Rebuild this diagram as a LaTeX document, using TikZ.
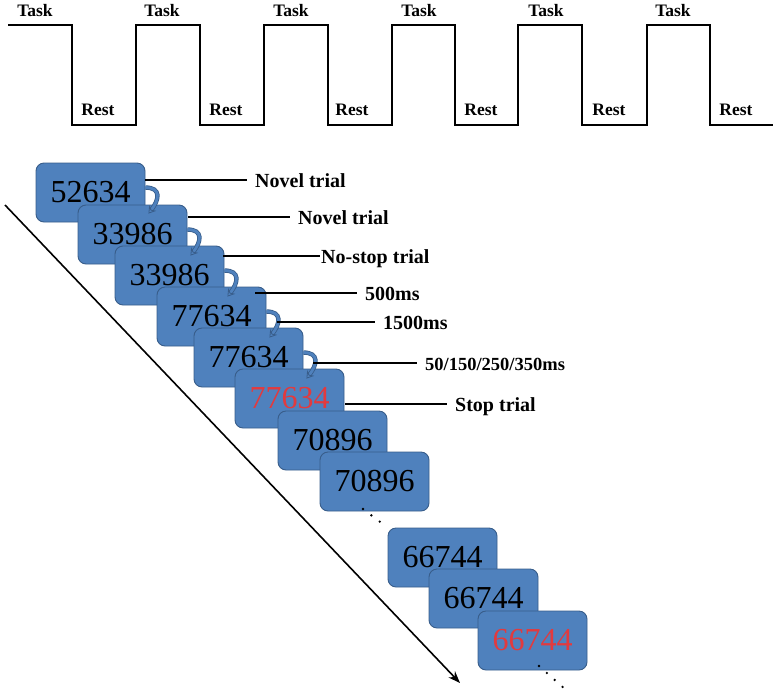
\documentclass[tikz,border=0pt]{standalone}
\usepackage{fontspec}
\setmainfont{Liberation Serif}
\usetikzlibrary{arrows.meta,calc}
\definecolor{boxblue}{RGB}{79,129,189}
\definecolor{boxedge}{RGB}{56,93,138}
\definecolor{numred}{RGB}{226,58,62}
\begin{document}
\begin{tikzpicture}[x=1pt,y=-1pt,
 trialbox/.style={draw=boxedge, fill=boxblue, line width=0.9pt, rounded corners=8pt,
   minimum width=109pt, minimum height=59pt, inner sep=0pt, font=\fontsize{32}{32}\selectfont},
 phase/.style={font=\bfseries\fontsize{17.5}{18}\selectfont, anchor=base, inner sep=0pt},
 lab/.style={font=\bfseries\fontsize{20}{20}\selectfont, anchor=base west, inner sep=0pt},
 leader/.style={line width=1.6pt, shorten >=8pt},
 flow/.style={draw=boxedge, line width=0.8pt, double=boxblue, double distance=2.8pt,
   -{Stealth[length=7pt,width=9pt,open]}},
 wave/.style={line width=2.2pt, line join=miter},
 dots/.style={line width=2.6pt, line cap=round, dash pattern=on 0pt off 10.5pt}
]
\useasboundingbox (0,0) rectangle (776,694);

% block design square wave
\draw[wave] (8,25) -- (72,25) -- (72,125) -- (136,125) -- (136,25) -- (200,25) -- (200,125)
  -- (264,125) -- (264,25) -- (328,25) -- (328,125) -- (392,125) -- (392,25) -- (455,25)
  -- (455,125) -- (518,125) -- (518,25) -- (582,25) -- (582,125) -- (647,125) -- (647,25)
  -- (710,25) -- (710,125) -- (773,125);
\foreach \x [count=\k] in {35,162,291,419,546,673}
  \node[phase] (task\k) at (\x,16) {Task};
\foreach \x [count=\k] in {98,226,352,481,609,736}
  \node[phase] (rest\k) at (\x,115) {Rest};

% time axis
\coordinate (d0) at (5,205);
\coordinate (d1) at (460,683);
\draw[line width=1.6pt, -{Stealth[length=12pt,width=9pt]}] (d0) -- (d1);

% trial boxes
\node[trialbox] (b1) at (90.5,192.5) {52634};
\node[trialbox] (b2) at (132.5,234.5) {33986};
\node[trialbox] (b3) at (169.5,275.5) {33986};
\node[trialbox] (b4) at (211.5,316.5) {77634};
\node[trialbox] (b5) at (248.5,357.5) {77634};
\node[trialbox, text=numred] (b6) at (289.5,398.5) {77634};
\node[trialbox] (b7) at (332.5,440.5) {70896};
\node[trialbox] (b8) at (374.5,481.5) {70896};
\node[trialbox] (b9) at (442.5,557.5) {66744};
\node[trialbox] (b10) at (483.5,598.5) {66744};
\node[trialbox, text=numred] (b11) at (532.5,640.5) {66744};

% curved transition arrows
\foreach \i in {1,...,5}
  \draw[flow] ($(b\i.north east)+(0,25)$) .. controls +(16,0) and +(11,-14) .. ($(b\i.north east)+(3,51)$);

% leader lines and labels
\coordinate (s1) at (145,180);
\coordinate (s2) at (188,217);
\coordinate (s3) at (223,256);
\coordinate (s4) at (255,293);
\coordinate (s5) at (277,322);
\coordinate (s6) at (313,363);
\coordinate (s7) at (345,404);
\node[lab] (l1) at (255,187) {Novel trial};
\node[lab] (l2) at (298,224) {Novel trial};
\node[lab] (l3) at (321,263) {No-stop trial};
\node[lab] (l4) at (365,300) {500ms};
\node[lab] (l5) at (383,329) {1500ms};
\node[lab, font=\bfseries\fontsize{18.5}{19}\selectfont] (l6) at (425,370) {50/150/250/350ms};
\node[lab] (l7) at (455,411) {Stop trial};
\draw[leader] (s1) -- (s1 -| l1.west);
\draw[leader] (s2) -- (s2 -| l2.west);
\draw[leader, shorten >=1pt] (s3) -- (s3 -| l3.west);
\draw[leader] (s4) -- (s4 -| l4.west);
\draw[leader] (s5) -- (s5 -| l5.west);
\draw[leader] (s6) -- (s6 -| l6.west);
\draw[leader] (s7) -- (s7 -| l7.west);

% continuation dots
\coordinate (c1) at (363,509);
\coordinate (c2) at (539,666);
\coordinate (c3) at (566,690);
\draw[dots] (c1) -- (b9.north west);
\draw[dots] (c2) -- (c3);
\end{tikzpicture}
\end{document}
